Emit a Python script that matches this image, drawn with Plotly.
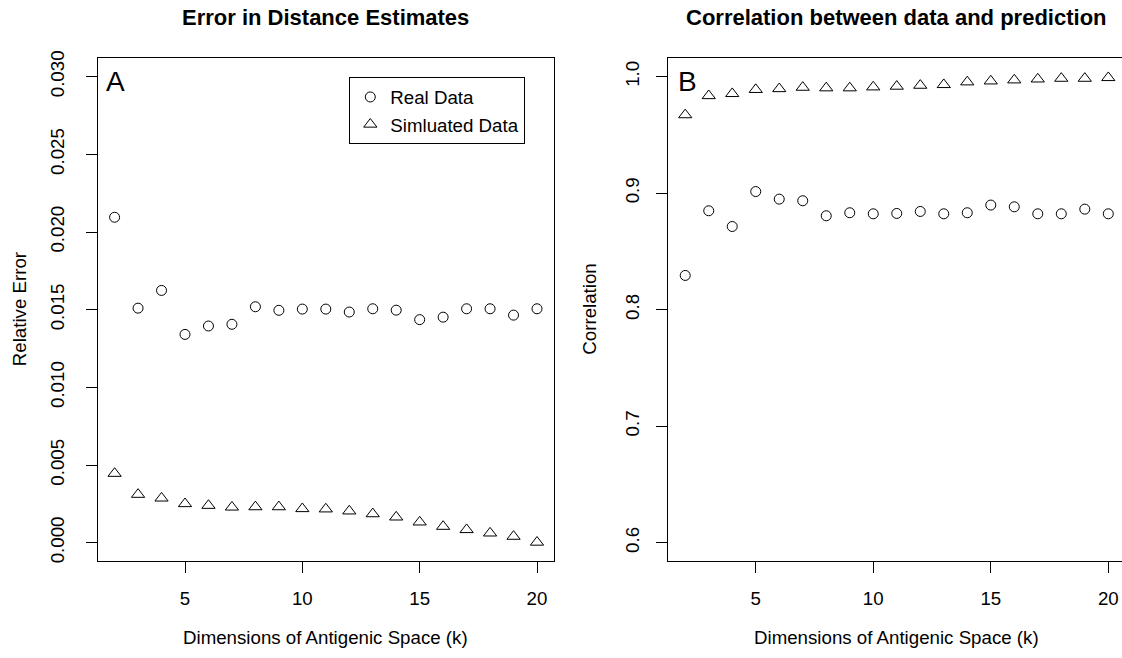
import plotly.graph_objects as go

# ---- data ----
k_dims = [2, 3, 4, 5, 6, 7, 8, 9, 10, 11, 12, 13, 14, 15, 16, 17, 18, 19, 20]
real_error = [0.02095, 0.01510, 0.01624, 0.01341, 0.01395, 0.01406, 0.01519, 0.01496, 0.01504, 0.01504,
              0.01485, 0.01506, 0.01497, 0.01436, 0.01452, 0.01506, 0.01506, 0.01465, 0.01506]
sim_error = [0.00446, 0.00311, 0.00287, 0.00251, 0.00240, 0.00229, 0.00231, 0.00231, 0.00219, 0.00217,
             0.00204, 0.00186, 0.00165, 0.00133, 0.00105, 0.00084, 0.00062, 0.00041, 0.00003]
real_cor = [0.8294, 0.8849, 0.8714, 0.9014, 0.8949, 0.8935, 0.8806, 0.8832, 0.8823, 0.8826,
            0.8843, 0.8823, 0.8832, 0.8898, 0.8883, 0.8823, 0.8823, 0.8863, 0.8823]
sim_cor = [0.9672, 0.9836, 0.9854, 0.9889, 0.9896, 0.9908, 0.9903, 0.9903, 0.9911, 0.9917,
           0.9925, 0.9931, 0.9954, 0.9962, 0.9971, 0.9979, 0.9985, 0.9985, 0.9991]

x_ticks = [5, 10, 15, 20]
err_ticks = [0.000, 0.005, 0.010, 0.015, 0.020, 0.025, 0.030]
cor_ticks = [0.6, 0.7, 0.8, 0.9, 1.0]

titles = ["Error in Distance Estimates", "Correlation between data and prediction"]
x_title = "Dimensions of Antigenic Space (k)"
y_titles = ["Relative Error", "Correlation"]
series_names = ["Real Data", "Simluated Data"]

# ---- styling ----
W, H = 1122, 658
FONT = "Liberation Sans, Arial, Helvetica, sans-serif"
FS = 18.7


def px(x):
    return x / W


def py(y):
    return 1 - y / H


circle = dict(symbol="circle-open", size=10, color="black", line=dict(color="black", width=1))
tri = dict(symbol="triangle-up-open", size=11.5, color="black", line=dict(color="black", width=1))

fig = go.Figure()
fig.add_trace(go.Scatter(x=k_dims, y=real_error, mode="markers", marker=circle,
                         name=series_names[0], xaxis="x", yaxis="y"))
fig.add_trace(go.Scatter(x=k_dims, y=sim_error, mode="markers", marker=tri,
                         name=series_names[1], xaxis="x", yaxis="y"))
fig.add_trace(go.Scatter(x=k_dims, y=real_cor, mode="markers", marker=circle,
                         name=series_names[0], xaxis="x2", yaxis="y2", showlegend=False))
fig.add_trace(go.Scatter(x=k_dims, y=sim_cor, mode="markers", marker=tri,
                         name=series_names[1], xaxis="x2", yaxis="y2", showlegend=False))

axis_common = dict(showgrid=False, zeroline=False, showline=True, linecolor="black", linewidth=1,
                   ticks="outside", ticklen=11, tickwidth=1, tickcolor="black",
                   tickfont=dict(family=FONT, size=FS, color="black"), automargin=False)

ydom = [py(561.4), py(58)]
fig.update_layout(
    width=W, height=H,
    margin=dict(l=0, r=0, t=0, b=0),
    paper_bgcolor="white", plot_bgcolor="white",
    font=dict(family=FONT, size=FS, color="black"),
    xaxis=dict(domain=[px(97.7), px(553.9)], range=[1.28, 20.72], tickvals=x_ticks,
               mirror=True, anchor="y", ticklabelstandoff=9, **axis_common),
    yaxis=dict(domain=ydom, range=[-0.0012, 0.0312], tickvals=err_ticks, tickformat=".3f",
               tickangle=-90, mirror=True, anchor="x", ticklabelstandoff=14, **axis_common),
    xaxis2=dict(domain=[px(668.3), 1.0], range=[1.28, 20.583], tickvals=x_ticks,
                mirror=True, anchor="y2", ticklabelstandoff=9, **axis_common),
    yaxis2=dict(domain=ydom, range=[0.584, 1.016], tickvals=cor_ticks, tickformat=".1f",
                tickangle=-90, mirror=False, anchor="x2", ticklabelstandoff=10, **axis_common),
    legend=dict(x=px(349.3), y=py(77.3), xanchor="left", yanchor="top",
                bordercolor="black", borderwidth=1, bgcolor="white",
                font=dict(family=FONT, size=FS, color="black"),
                tracegroupgap=0, itemsizing="trace"),
    showlegend=True,
)

ann = []
centers = [(97.7 + 553.9) / 2, (668.3 + 1125) / 2]
for i in range(2):
    ann.append(dict(text="<b>" + titles[i] + "</b>", x=px(centers[i]), y=py(17.5), xref="paper", yref="paper",
                    xanchor="center", yanchor="middle", showarrow=False,
                    font=dict(family=FONT, size=22, color="black")))
    ann.append(dict(text=x_title, x=px(centers[i]), y=py(637), xref="paper", yref="paper",
                    xanchor="center", yanchor="middle", showarrow=False,
                    font=dict(family=FONT, size=FS, color="black")))
ann.append(dict(text=y_titles[0], x=px(19.5), y=py(309.7), xref="paper", yref="paper", textangle=-90,
                xanchor="center", yanchor="middle", showarrow=False,
                font=dict(family=FONT, size=FS, color="black")))
ann.append(dict(text=y_titles[1], x=px(590), y=py(309.7), xref="paper", yref="paper", textangle=-90,
                xanchor="center", yanchor="middle", showarrow=False,
                font=dict(family=FONT, size=FS, color="black")))
ann.append(dict(text="A", x=px(104), y=py(81), xref="paper", yref="paper",
                xanchor="left", yanchor="middle", showarrow=False,
                font=dict(family=FONT, size=28, color="black")))
ann.append(dict(text="B", x=px(675.5), y=py(81), xref="paper", yref="paper",
                xanchor="left", yanchor="middle", showarrow=False,
                font=dict(family=FONT, size=28, color="black")))
fig.update_layout(annotations=ann)

fig.write_html("out.html")
